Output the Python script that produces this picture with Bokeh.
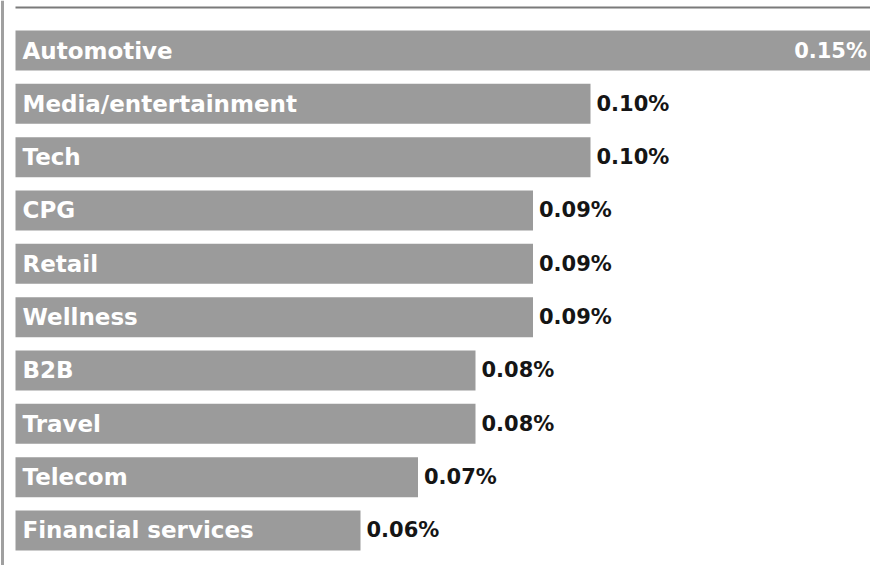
from bokeh.plotting import figure
from bokeh.models import ColumnDataSource, Range1d
from bokeh.core.properties import value
from bokeh.embed import file_html
from bokeh.resources import INLINE

categories = ["Automotive", "Media/entertainment", "Tech", "CPG", "Retail",
              "Wellness", "B2B", "Travel", "Telecom", "Financial services"]
shares = [0.15, 0.10, 0.10, 0.09, 0.09, 0.09, 0.08, 0.08, 0.07, 0.06]
share_labels = ["0.15%", "0.10%", "0.10%", "0.09%", "0.09%",
                "0.09%", "0.08%", "0.08%", "0.07%", "0.06%"]

W, H = 870, 565
px_per_unit_x = 5750.0
left_pad = 15
pitch = 53.33
first_center = 50

x0 = -left_pad / px_per_unit_x
x1 = x0 + W / px_per_unit_x
y_top = -first_center / pitch
y_bot = y_top + H / pitch

pos = list(range(len(categories)))
src = ColumnDataSource(dict(y=pos, v=shares, cat=categories, lab=share_labels))

p = figure(width=W, height=H, output_backend="svg", toolbar_location=None,
           x_range=Range1d(x0, x1), y_range=Range1d(y_bot, y_top),
           min_border=0, min_border_left=0, min_border_right=0,
           min_border_top=0, min_border_bottom=0)
p.axis.visible = False
p.grid.visible = False
p.outline_line_color = None
p.background_fill_color = "white"
p.border_fill_color = "white"

p.hbar(y="y", left=0, right="v", height=0.75, source=src,
       fill_color="#9b9b9b", line_color=None)

# top rule and left frame line
rule_y = y_top + 7 / pitch
p.segment(x0=[0], y0=[rule_y], x1=[x1], y1=[rule_y],
          line_color="#7a7a7a", line_width=2)
frame_x = x0 + 2 / px_per_unit_x
p.segment(x0=[frame_x], y0=[y_top], x1=[frame_x], y1=[y_bot],
          line_color="#a0a0a0", line_width=3)

p.text(x=0, y="y", text="cat", source=src, x_offset=7,
       text_font=value("DejaVu Sans"), text_font_style="bold",
       text_font_size="23px", text_color="white",
       text_baseline="middle", text_align="left")

vmax = max(shares)
out_idx = [i for i, s in enumerate(shares) if s < vmax]
in_idx = [i for i, s in enumerate(shares) if s >= vmax]
src_out = ColumnDataSource(dict(y=[pos[i] for i in out_idx], v=[shares[i] for i in out_idx],
                                lab=[share_labels[i] for i in out_idx]))
src_in = ColumnDataSource(dict(y=[pos[i] for i in in_idx], v=[shares[i] for i in in_idx],
                               lab=[share_labels[i] for i in in_idx]))

p.text(x="v", y="y", text="lab", source=src_out, x_offset=6,
       text_font=value("DejaVu Sans"), text_font_style="bold",
       text_font_size="21px", text_color="#151515",
       text_baseline="middle", text_align="left")
p.text(x="v", y="y", text="lab", source=src_in, x_offset=-11,
       text_font=value("DejaVu Sans"), text_font_style="bold",
       text_font_size="21px", text_color="white",
       text_baseline="middle", text_align="right")

open("out.html", "w").write(file_html(p, INLINE))
